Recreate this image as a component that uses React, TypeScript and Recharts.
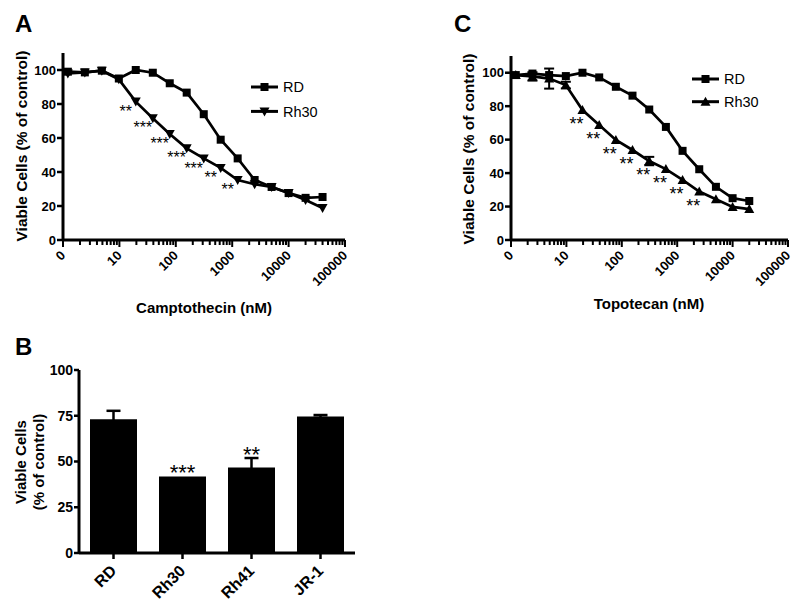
import React from 'react';
import { LineChart, Line, XAxis, YAxis, BarChart, Bar, ErrorBar, LabelList, Legend } from 'recharts';

const FONT = "'Liberation Sans', Arial, Helvetica, sans-serif";

// ---------- Panel A: Camptothecin ----------
const concA = [1.22, 2.44, 4.88, 9.77, 19.5, 39.1, 78.1, 156, 313, 625, 1250, 2500, 5000, 10000, 20000, 40000];
const rdA = [99, 98.6, 99.6, 95, 100, 98.4, 92.2, 86.7, 74, 59, 48, 35.3, 31.2, 27.6, 24.8, 25.3];
const rh30A = [98, 98.6, 99.6, 94.5, 81.4, 71.6, 62.4, 53.9, 48, 42.4, 35.3, 32.8, 31.2, 27.6, 23.5, 18.8];
const starsA = ['', '', '', '', '**', '***', '***', '***', '***', '**', '**', '', '', '', '', ''];

// ---------- Panel C: Topotecan ----------
const concC = [1.22, 2.44, 4.88, 9.77, 19.5, 39.1, 78.1, 156, 313, 625, 1250, 2500, 5000, 10000, 20000];
const rdC = [98.6, 99.5, 98.6, 98, 100, 97.2, 91.6, 86.3, 78, 67.6, 53.3, 42.3, 31.8, 25, 23.3];
const rh30C = [98.6, 97.8, 96.5, 92.6, 77.7, 68.7, 59.8, 53.8, 47.2, 42.4, 35.9, 29, 24.4, 19.8, 18.5];
const rh30ErrC = [0, 2.5, 6, 2, 0, 0, 0, 0, 2.5, 0, 0, 0, 0, 0, 0];
const starsC = ['', '', '', '', '**', '**', '**', '**', '**', '**', '**', '**', '', '', ''];

// ---------- Panel B: bars ----------
const cellLines = ['RD', 'Rh30', 'Rh41', 'JR-1'];
const viable = [73.1, 41.8, 46.7, 74.6];
const viableErr = [4.6, 0, 5.2, 0.8];
const starsB = ['', '***', '**', ''];

// ---------- ticks ----------
const logTickValues = [1, 10, 100, 1000, 10000, 100000];
const logTickLabels = ['0', '10', '100', '1000', '10000', '100000'];
const yTicksAC = [0, 20, 40, 60, 80, 100];
const yTicksB = [0, 25, 50, 75, 100];

const logAllTicks: number[] = [];
logTickValues.slice(0, -1).forEach((d) => {
  for (let k = 1; k <= 9; k++) logAllTicks.push(k * d);
});
logAllTicks.push(logTickValues[logTickValues.length - 1]);

const dataA = concA.map((c, i) => ({ conc: c, rd: rdA[i], rh30: rh30A[i], star: starsA[i] }));
const dataC = concC.map((c, i) => ({ conc: c, rd: rdC[i], rh30: rh30C[i], err: rh30ErrC[i], star: starsC[i] }));
const dataB = cellLines.map((c, i) => ({ name: c, v: viable[i], e: viableErr[i], s: starsB[i] }));

const Marker = ({ shape, cx, cy }: any) => {
  if (cx == null || cy == null) return null;
  if (shape === 'square') return <rect x={cx - 4} y={cy - 4} width={8} height={8} fill="#000" />;
  if (shape === 'down')
    return <polygon points={`${cx - 5},${cy - 4} ${cx + 5},${cy - 4} ${cx},${cy + 5}`} fill="#000" />;
  return <polygon points={`${cx - 5},${cy + 4} ${cx + 5},${cy + 4} ${cx},${cy - 5}`} fill="#000" />;
};

const dotFn = (shape: string, prefix: string) => (p: any) => (
  <Marker key={`${prefix}-${p.index}`} shape={shape} cx={p.cx} cy={p.cy} />
);

const LogTick = (props: any) => {
  const { x, y, payload } = props;
  const idx = logTickValues.indexOf(payload.value);
  const major = idx >= 0;
  const ly = y + 13;
  return (
    <g>
      <line x1={x} x2={x} y1={y} y2={y + (major ? 7 : 5)} stroke="#000" strokeWidth={2} />
      {major && (
        <text
          x={x}
          y={ly}
          transform={`rotate(-45, ${x}, ${ly})`}
          textAnchor="end"
          dominantBaseline="central"
          fontSize={13}
          fontWeight="bold"
          fill="#000"
        >
          {logTickLabels[idx]}
        </text>
      )}
    </g>
  );
};

const CatTick = (props: any) => {
  const { x, y, payload } = props;
  const ly = y + 15;
  return (
    <g>
      <line x1={x} x2={x} y1={y} y2={y + 6} stroke="#000" strokeWidth={2.5} />
      <text
        x={x}
        y={ly}
        transform={`rotate(-45, ${x}, ${ly})`}
        textAnchor="end"
        dominantBaseline="central"
        fontSize={16}
        fontWeight="bold"
        fill="#000"
      >
        {payload.value}
      </text>
    </g>
  );
};

const starFn = (dx: number, dy: number, fs: number) => (p: any) => {
  const { x, y, value, index } = p;
  if (!value) return null;
  return (
    <text key={`st-${index}`} x={x + dx} y={y + dy + 0.57 * fs} textAnchor="middle" fontSize={fs} fill="#000">
      {value}
    </text>
  );
};

const StarB = (p: any) => {
  const { x, y, width, height, value, index } = p;
  if (!value) return null;
  const errTop = y - (viableErr[index] * height) / viable[index];
  return (
    <text x={x + width / 2} y={errTop - 9 + 0.57 * 22} textAnchor="middle" fontSize={22} fill="#000">
      {value}
    </text>
  );
};

const makeLegend = (items: { name: string; shape: string }[], gap: number) => () => (
  <svg width={100} height={56} style={{ overflow: 'visible', display: 'block' }}>
    {items.map((s, i) => {
      const cy = 12 + i * gap;
      return (
        <g key={s.name}>
          <line x1={6} x2={33} y1={cy} y2={cy} stroke="#000" strokeWidth={3} />
          <Marker shape={s.shape} cx={19.5} cy={cy} />
          <text x={38} y={cy + 5.2} fontSize={14.5} fill="#000">
            {s.name}
          </text>
        </g>
      );
    })}
  </svg>
);

const legendA = makeLegend([{ name: 'RD', shape: 'square' }, { name: 'Rh30', shape: 'down' }], 24.4);
const legendC = makeLegend([{ name: 'RD', shape: 'square' }, { name: 'Rh30', shape: 'up' }], 22.7);

const axisLine = { stroke: '#000', strokeWidth: 3 };
const tickLine = { stroke: '#000', strokeWidth: 2.5 };

const RotTitle = ({ cx, cy, text, size }: any) => (
  <text
    x={cx}
    y={cy}
    transform={`rotate(-90, ${cx}, ${cy})`}
    textAnchor="middle"
    dominantBaseline="central"
    fontSize={size}
    fontWeight="bold"
    fill="#000"
  >
    {text}
  </text>
);

export default function App() {
  return (
    <div style={{ position: 'absolute', left: 0, top: 0, width: 800, height: 606, background: '#fff', fontFamily: FONT }}>
      {/* Panel A */}
      <div style={{ position: 'absolute', left: 0, top: 0 }}>
        <LineChart width={400} height={330} data={dataA} margin={{ top: 53, right: 55, bottom: 0, left: 0 }}>
          <XAxis
            dataKey="conc"
            type="number"
            scale="log"
            domain={[1, 100000]}
            allowDataOverflow
            ticks={logAllTicks}
            interval={0}
            height={90}
            tickLine={false}
            tickSize={0}
            tickMargin={0}
            axisLine={axisLine}
            tick={<LogTick />}
          />
          <YAxis
            type="number"
            domain={[0, 110]}
            allowDataOverflow
            ticks={yTicksAC}
            interval={0}
            width={63}
            tickSize={6}
            tickMargin={1}
            axisLine={axisLine}
            tickLine={tickLine}
            tick={{ fill: '#000', fontSize: 13, fontWeight: 'bold' }}
          />
          <Line dataKey="rd" name="RD" stroke="#000" strokeWidth={2.7} dot={dotFn('square', 'ard')} isAnimationActive={false} />
          <Line dataKey="rh30" name="Rh30" stroke="#000" strokeWidth={2.7} dot={dotFn('down', 'arh')} isAnimationActive={false}>
            <LabelList dataKey="star" content={starFn(-10, 6, 16)} />
          </Line>
          <Legend layout="vertical" align="center" verticalAlign="middle" content={legendA} wrapperStyle={{ left: 245, top: 75, width: 100, height: 56 }} />
          <text x={15} y={32} fontSize={24} fontWeight="bold" fill="#000">A</text>
          <RotTitle cx={21.5} cy={146} text="Viable Cells (% of control)" size={15.5} />
          <text x={204} y={312.5} textAnchor="middle" fontSize={15} fontWeight="bold" fill="#000">Camptothecin (nM)</text>
        </LineChart>
      </div>

      {/* Panel C */}
      <div style={{ position: 'absolute', left: 400, top: 0 }}>
        <LineChart width={400} height={330} data={dataC} margin={{ top: 56, right: 12, bottom: 0, left: 0 }}>
          <XAxis
            dataKey="conc"
            type="number"
            scale="log"
            domain={[1, 100000]}
            allowDataOverflow
            ticks={logAllTicks}
            interval={0}
            height={90}
            tickLine={false}
            tickSize={0}
            tickMargin={0}
            axisLine={axisLine}
            tick={<LogTick />}
          />
          <YAxis
            type="number"
            domain={[0, 110]}
            allowDataOverflow
            ticks={yTicksAC}
            interval={0}
            width={111}
            tickSize={6}
            tickMargin={1}
            axisLine={axisLine}
            tickLine={tickLine}
            tick={{ fill: '#000', fontSize: 13, fontWeight: 'bold' }}
          />
          <Line dataKey="rd" name="RD" stroke="#000" strokeWidth={2.7} dot={dotFn('square', 'crd')} isAnimationActive={false} />
          <Line dataKey="rh30" name="Rh30" stroke="#000" strokeWidth={2.7} dot={dotFn('up', 'crh')} isAnimationActive={false}>
            <ErrorBar dataKey="err" width={5} stroke="#000" strokeWidth={2} direction="y" />
            <LabelList dataKey="star" content={starFn(-6, 10, 18)} />
          </Line>
          <Legend layout="vertical" align="center" verticalAlign="middle" content={legendC} wrapperStyle={{ left: 286, top: 67, width: 100, height: 56 }} />
          <text x={54} y={32} fontSize={24} fontWeight="bold" fill="#000">C</text>
          <RotTitle cx={68.5} cy={149} text="Viable Cells (% of control)" size={15.5} />
          <text x={249} y={308.5} textAnchor="middle" fontSize={15} fontWeight="bold" fill="#000">Topotecan (nM)</text>
        </LineChart>
      </div>

      {/* Panel B */}
      <div style={{ position: 'absolute', left: 0, top: 320 }}>
        <BarChart width={400} height={286} data={dataB} margin={{ top: 50, right: 45, bottom: 0, left: 0 }}>
          <XAxis
            dataKey="name"
            type="category"
            interval={0}
            height={53}
            tickLine={false}
            tickSize={0}
            tickMargin={0}
            axisLine={axisLine}
            tick={<CatTick />}
          />
          <YAxis
            type="number"
            domain={[0, 100]}
            ticks={yTicksB}
            interval={0}
            width={79}
            tickSize={5}
            tickMargin={1}
            axisLine={axisLine}
            tickLine={tickLine}
            tick={{ fill: '#000', fontSize: 14, fontWeight: 'bold' }}
          />
          <Bar dataKey="v" fill="#000" barSize={47} isAnimationActive={false}>
            <ErrorBar dataKey="e" width={7} stroke="#000" strokeWidth={2.5} direction="y" />
            <LabelList dataKey="s" content={StarB} />
          </Bar>
          <text x={15} y={35} fontSize={24} fontWeight="bold" fill="#000">B</text>
          <RotTitle cx={20.5} cy={142} text="Viable Cells" size={15} />
          <RotTitle cx={38.5} cy={142} text="(% of control)" size={15} />
        </BarChart>
      </div>
    </div>
  );
}
